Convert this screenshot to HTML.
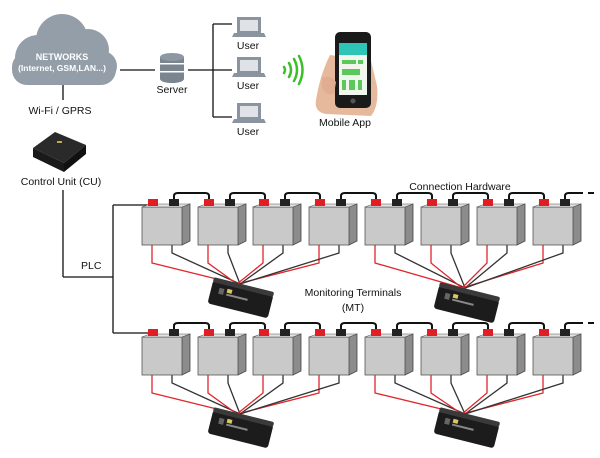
<!DOCTYPE html>
<html><head><meta charset="utf-8"><style>
html,body{margin:0;padding:0;background:#fff}
svg{display:block}
text{font-family:"Liberation Sans",sans-serif;fill:#111}
</style></head><body>
<svg id="s" width="600" height="458" viewBox="0 0 600 458" xmlns="http://www.w3.org/2000/svg">
<!-- cloud -->
<g fill="#949ea9">
<circle cx="38" cy="58" r="23"/><circle cx="62" cy="40" r="26"/><circle cx="88" cy="50" r="21"/><circle cx="102" cy="66" r="15"/>
<rect x="12" y="52" width="104" height="33" rx="15"/>
</g>
<text x="62" y="60" font-size="9" font-weight="bold" text-anchor="middle" style="fill:#fff">NETWORKS</text>
<text x="62" y="71" font-size="8.5" font-weight="bold" text-anchor="middle" style="fill:#fff">(Internet, GSM,LAN...)</text>
<g stroke="#111" stroke-width="1.3" fill="none">
<line x1="120" y1="70" x2="155" y2="70"/>
<line x1="188" y1="70" x2="213" y2="70"/>
<line x1="213" y1="24" x2="213" y2="117"/>
<line x1="213" y1="24" x2="232" y2="24"/>
<line x1="213" y1="70" x2="232" y2="70"/>
<line x1="213" y1="117" x2="232" y2="117"/>
<line x1="63" y1="85" x2="63" y2="100"/>
<line x1="63" y1="190" x2="63" y2="277"/>
<line x1="63" y1="277" x2="113" y2="277"/>
<line x1="113" y1="205" x2="113" y2="333"/>
<line x1="113" y1="205" x2="148" y2="205"/>
<line x1="113" y1="333" x2="148" y2="333"/>
</g>
<!-- server -->
<g fill="#7a8590">
<ellipse cx="172" cy="79" rx="12" ry="4"/><rect x="160" y="57" width="24" height="22"/>
</g>
<g fill="#fff"><rect x="160" y="63" width="24" height="1.5"/><rect x="160" y="71" width="24" height="1.5"/></g>
<ellipse cx="172" cy="57" rx="12" ry="4" fill="#8e98a4"/>
<text x="172" y="93" font-size="10.5" text-anchor="middle">Server</text>
<!-- laptops -->
<g id="lap">
<rect x="237" y="17" width="24" height="16" fill="#8a94a0"/><rect x="240" y="20" width="18" height="11" fill="#dfe3e7"/>
<polygon points="234,33 264,33 266,37 232,37" fill="#8a94a0"/>
</g>
<use href="#lap" y="40"/><use href="#lap" y="86"/>
<text x="248" y="49" font-size="10.5" text-anchor="middle">User</text>
<text x="248" y="89" font-size="10.5" text-anchor="middle">User</text>
<text x="248" y="135" font-size="10.5" text-anchor="middle">User</text>
<!-- wifi -->
<g fill="none" stroke="#3cbf2a" stroke-width="2.5" stroke-linecap="round">
<path d="M284 67 q2 3 0 6"/><path d="M289 63 q4 7 0 14"/><path d="M294 59 q6 11 0 22"/><path d="M299 56 q7 14 0 28"/>
</g>
<!-- phone -->
<path d="M330 55 q-10 20 -14 45 q-2 12 10 14 l45 2 q8 -10 6 -30 l-6 -25 z" fill="#e6b89c"/>
<rect x="335" y="32" width="36" height="76" rx="5" fill="#1a1a1a"/>
<rect x="339" y="43" width="28" height="52" fill="#f0f5ee"/>
<rect x="339" y="43" width="28" height="12" fill="#2ec4b6"/>
<g fill="#5cc85a"><rect x="342" y="60" width="14" height="4"/><rect x="358" y="60" width="5" height="4"/><rect x="342" y="69" width="18" height="6"/><rect x="342" y="80" width="4" height="10"/><rect x="349" y="80" width="6" height="10"/><rect x="358" y="80" width="4" height="10"/></g>
<circle cx="353" cy="101" r="2.5" fill="#555"/>
<path d="M322 78 q8 -4 14 4 l-2 12 q-8 2 -12 -6z" fill="#e0ad90"/>
<text x="345" y="126" font-size="10.5" text-anchor="middle">Mobile App</text>
<text x="60" y="114" font-size="10.5" text-anchor="middle">Wi-Fi / GPRS</text>
<!-- CU -->
<polygon points="33,148 55,132 86,145 64,163" fill="#2a2a2a"/>
<polygon points="33,148 64,163 64,172 33,157" fill="#1a1a1a"/>
<polygon points="64,163 86,145 86,154 64,172" fill="#111"/>
<rect x="57" y="141" width="5" height="2" fill="#c9a84a"/>
<text x="61" y="185" font-size="10.5" text-anchor="middle">Control Unit (CU)</text>
<text x="81" y="269" font-size="10.5">PLC</text>
<text x="460" y="190" font-size="10.5" text-anchor="middle">Connection Hardware</text>
<text x="353" y="296" font-size="10.5" text-anchor="middle">Monitoring Terminals</text>
<text x="353" y="311" font-size="10.5" text-anchor="middle">(MT)</text>
<g id="bat"></g>
</svg>
<script>
var ns="http://www.w3.org/2000/svg",g=document.getElementById("bat");
function el(t,a){var e=document.createElementNS(ns,t);for(var k in a)e.setAttribute(k,a[k]);g.appendChild(e);return e;}
var xs=[142,198,253,309,365,421,477,533];
function row(y,m1,m2){
 for(var i=0;i<8;i++){var x=xs[i],m=i<4?m1:m2;
  el("polyline",{points:(x+10)+","+(y+36)+" "+(x+10)+","+(y+56)+" "+m[0]+","+m[1],fill:"none",stroke:"#e0262a","stroke-width":1.3});
  el("polyline",{points:(x+30)+","+(y+36)+" "+(x+30)+","+(y+46)+" "+(m[0]+3)+","+m[1],fill:"none",stroke:"#333","stroke-width":1.3});
 }
 for(var i=0;i<8;i++){var x=xs[i];
  el("polygon",{points:(x+40)+","+y+" "+(x+48)+","+(y-3)+" "+(x+48)+","+(y+34)+" "+(x+40)+","+(y+38),fill:"#8c8c8c",stroke:"#444","stroke-width":0.8});
  el("rect",{x:x,y:y,width:40,height:38,fill:"#c9c9c9",stroke:"#555","stroke-width":0.8});
  el("polygon",{points:x+","+y+" "+(x+8)+","+(y-3)+" "+(x+48)+","+(y-3)+" "+(x+40)+","+y,fill:"#e2e2e2",stroke:"#555","stroke-width":0.6});
  el("rect",{x:x+6,y:y-8,width:10,height:7,fill:"#e01e24"});
  el("rect",{x:x+27,y:y-8,width:10,height:7,fill:"#222"});
  var nx=i<7?(x+56+11):583;
  var d="M"+(x+32)+" "+(y-8)+"V"+(y-11)+"Q"+(x+32)+" "+(y-14)+" "+(x+36)+" "+(y-14)+"H"+(i<7?(nx-4):nx);
  if(i<7)d+="Q"+nx+" "+(y-14)+" "+nx+" "+(y-11)+"V"+(y-8);
  el("path",{d:d,fill:"none",stroke:"#111","stroke-width":2});
  if(i==7)el("line",{x1:588,y1:y-14,x2:594,y2:y-14,stroke:"#111","stroke-width":2});
 }
}
function mt(cx,cy){
 var t=document.createElementNS(ns,"g");t.setAttribute("transform","translate("+cx+","+cy+") rotate(14)");g.appendChild(t);
 var a=[["rect",{x:-30,y:-10,width:62,height:24,rx:3,fill:"#1c1c1c"}],["rect",{x:-30,y:-13,width:62,height:5,rx:2,fill:"#3a3a3a"}],["rect",{x:-22,y:-4,width:5,height:6,fill:"#666"}],["rect",{x:-14,y:-5,width:5,height:4,fill:"#d8c860"}],["rect",{x:-14,y:0,width:22,height:2,fill:"#888"}]];
 a.forEach(function(p){var e=document.createElementNS(ns,p[0]);for(var k in p[1])e.setAttribute(k,p[1][k]);t.appendChild(e);});
}
row(207,[237,284],[462,288]);
row(337,[237,414],[462,414]);
mt(240,297);mt(466,302);mt(240,427);mt(466,427);
</script>
</body></html>
